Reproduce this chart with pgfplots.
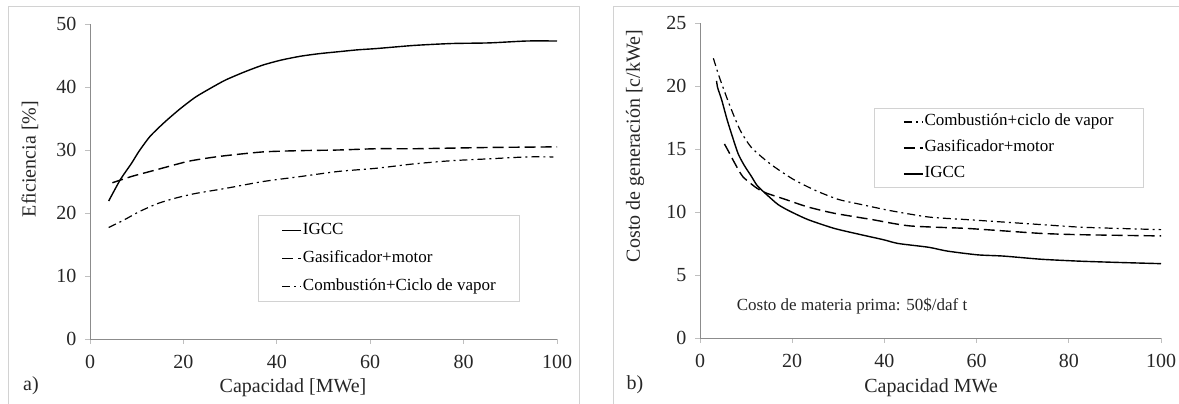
\documentclass[border=0pt]{standalone}
\usepackage{fontspec}
\setmainfont{Liberation Serif}
\usepackage{pgfplots}
\pgfplotsset{compat=1.18}

\pgfplotsset{
  panel/.style={
    scale only axis,
    axis lines*=left,
    axis line style={draw=gray!90, line width=0.8pt},
    tick align=outside,
    major tick length=5pt,
    tick style={draw=gray!50, line width=0.8pt},
    tick label style={font=\fontsize{20}{24}\selectfont, text=black!85},
    yticklabel style={xshift=-5pt},
    xticklabel style={yshift=-8pt},
    /pgf/number format/assume math mode=true,
    xmin=0, xmax=100, xtick={0,20,...,100},
    no markers,
    legend cell align=left,
    legend image code/.code={\draw[##1] (0pt,0pt) -- (19pt,0pt);},
    legend style={draw=gray!35, line width=0.8pt, font=\fontsize{17}{20}\selectfont,
      column sep=0pt, anchor=north west,
      nodes={inner sep=1pt, text height=13pt, text depth=5pt}},
  },
  igcc/.style={black, line width=1.4pt, smooth, tension=0.4},
  gasif/.style={black, line width=1.4pt, smooth, tension=0.4, dash pattern=on 11pt off 5pt},
  combu/.style={black, line width=1.2pt, smooth, tension=0.4, dash pattern=on 8pt off 4pt on 2pt off 4pt},
}

\begin{document}
\begin{tikzpicture}
\useasboundingbox (0pt,0pt) rectangle (1179pt,404pt);
\draw[gray!35, line width=1pt] (8pt,-5pt) rectangle (579pt,397pt);
\draw[gray!35, line width=1pt] (613pt,-5pt) rectangle (1190pt,397pt);

% a) eficiencia
\begin{axis}[panel,
  at={(90pt,65pt)}, anchor=south west, width=467pt, height=315pt,
  ymin=0, ymax=50, ytick={0,10,...,50},
  legend style={at={(0.36,0.394)}, inner xsep=23pt, inner ysep=5pt, row sep=8pt}]
\addplot[igcc] coordinates {
(4.0,21.9) (6.5,25.3) (8.9,27.9) (10.5,29.8) (12.9,32.2) (16.1,34.5) (19.4,36.6)
(22.6,38.4) (25.8,39.8) (29.0,41.1) (33.1,42.4) (37.1,43.5) (41.1,44.3) (45.2,44.9)
(49.2,45.3) (53.2,45.6) (57.3,45.9) (61.3,46.1) (69.4,46.6) (77.4,46.9) (85.5,47.0)
(93.5,47.3) (100,47.3)};
\addlegendentry{IGCC}
\addplot[gasif] coordinates {
(4.8,24.8) (8.9,25.8) (12.9,26.6) (16.9,27.4) (21.0,28.2) (25.0,28.7) (29.0,29.1)
(37.1,29.7) (45.2,29.9) (53.2,30.0) (61.3,30.2) (69.4,30.2) (77.4,30.3) (85.5,30.4)
(100,30.5)};
\addlegendentry{Gasificador+motor}
\addplot[combu] coordinates {
(4.0,17.7) (7.3,18.9) (10.5,20.2) (14.5,21.5) (18.5,22.4) (22.6,23.1) (29.0,23.9)
(37.1,25.0) (45.2,25.8) (53.2,26.6) (61.3,27.1) (69.4,27.8) (77.4,28.3) (85.5,28.6)
(93.5,28.9) (99.2,28.9)};
\addlegendentry{Combustión+Ciclo de vapor}
\end{axis}

% b) costo
\begin{axis}[panel,
  at={(700pt,66pt)}, anchor=south west, width=461pt, height=315pt,
  ymin=0, ymax=25, ytick={0,5,...,25},
  legend style={at={(0.377,0.730)}, inner xsep=29pt, inner ysep=3.5pt, row sep=6pt}]
\addplot[combu] coordinates {
(2.9,22.2) (4.2,20.7) (6.3,18.6) (8.7,16.5) (11.2,15.1) (15.3,13.8) (20.2,12.6)
(25.1,11.7) (30.0,11.0) (34.9,10.6) (41.4,10.1) (49.6,9.6) (57.7,9.4) (65.9,9.2)
(74.0,9.0) (82.3,8.8) (90.4,8.7) (100,8.6)};
\addlegendentry{Combustión+ciclo de vapor}
\addplot[gasif] coordinates {
(5.3,15.4) (6.2,14.8) (7.5,13.9) (9.3,12.8) (12.3,11.9) (14.4,11.5) (18.5,11.0)
(23.4,10.4) (29.1,9.9) (37.3,9.4) (45.4,8.9) (57.7,8.7) (65.9,8.5) (74.0,8.3)
(82.3,8.2) (100,8.1)};
\addlegendentry{Gasificador+motor}
\addplot[igcc] coordinates {
(3.6,20.4) (3.8,19.9) (4.7,18.9) (5.9,17.3) (7.1,15.9) (8.3,14.6) (9.6,13.7)
(11.2,12.8) (12.4,12.1) (14.4,11.4) (16.9,10.6) (19.3,10.1) (23.4,9.4) (29.1,8.7)
(34.9,8.2) (39.8,7.8) (43.0,7.5) (49.6,7.2) (53.6,6.9) (60.2,6.6) (65.9,6.5)
(74.0,6.25) (82.2,6.1) (90.4,6.0) (100,5.9)};
\addlegendentry{IGCC}
\end{axis}

\begin{scope}[font=\fontsize{20}{24}\selectfont, text=black!85]
\node[rotate=90] at (30pt,245pt) {Eficiencia [\%]};
\node at (293pt,16pt) {Capacidad [MWe]};
\node at (31pt,18pt) {a)};
\node[rotate=90] at (635pt,258pt) {Costo de generación [c/kWe]};
\node at (931pt,16pt) {Capacidad MWe};
\node at (635pt,19pt) {b)};
\end{scope}
\node[font=\fontsize{17}{20}\selectfont, text=black!85] at (852pt,98pt) {Costo de materia prima: 50\$/daf t};
\end{tikzpicture}
\end{document}
